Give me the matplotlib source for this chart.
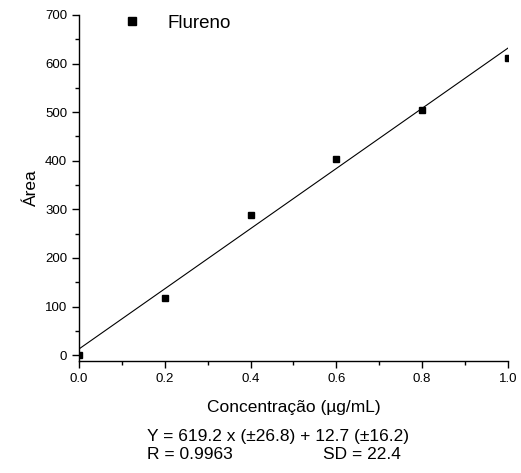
import matplotlib
matplotlib.use('Agg')
import numpy as np
import matplotlib.pyplot as plt
from matplotlib.ticker import MultipleLocator

plt.rcParams.update({
    'font.family': ['Liberation Sans', 'DejaVu Sans'],
    'axes.spines.top': False,
    'axes.spines.right': False,
    'axes.linewidth': 1.0,
})

# data
conc = [0.0, 0.2, 0.4, 0.6, 0.8, 1.0]
area = [0.0, 118.0, 288.0, 403.0, 504.0, 611.0]
slope, intercept = 619.2, 12.7
fit_x = [0.0, 1.0]

fig = plt.figure(figsize=(5.21, 4.73), dpi=100)
ax = fig.add_axes([0.1516, 0.2368, 0.975 - 0.1516, 0.9683 - 0.2368])

ax.plot(conc, area, 's', color='black', markersize=5, label='Flureno')
fx = np.array(fit_x)
ax.plot(fx, slope * fx + intercept, '-', color='black', linewidth=0.8)

ax.set_xlim(0, 1.0)
ax.set_ylim(-12, 700)
ax.xaxis.set_major_locator(MultipleLocator(0.2))
ax.xaxis.set_minor_locator(MultipleLocator(0.1))
ax.yaxis.set_major_locator(MultipleLocator(100))
ax.yaxis.set_minor_locator(MultipleLocator(50))
ax.xaxis.set_major_formatter(plt.FormatStrFormatter('%.1f'))
ax.tick_params(which='major', direction='out', length=5, width=1, labelsize=9.5)
ax.tick_params(which='minor', direction='out', length=3, width=1)

ax.set_xlabel('Concentração (µg/mL)', fontsize=12.5, labelpad=11)
ax.set_ylabel('Área', fontsize=12.5, labelpad=4)

ax.legend(loc='upper left', bbox_to_anchor=(0.04, 1.05), frameon=False,
          fontsize=13.5, handletextpad=0.9, markerscale=1.1)

fig.text(0.282, 0.077, 'Y = 619.2 x (±26.8) + 12.7 (±16.2)', fontsize=12.5, va='center')
fig.text(0.282, 0.039, 'R = 0.9963', fontsize=12.5, va='center')
fig.text(0.62, 0.039, 'SD = 22.4', fontsize=12.5, va='center')

fig.savefig('out.png', dpi=100)
